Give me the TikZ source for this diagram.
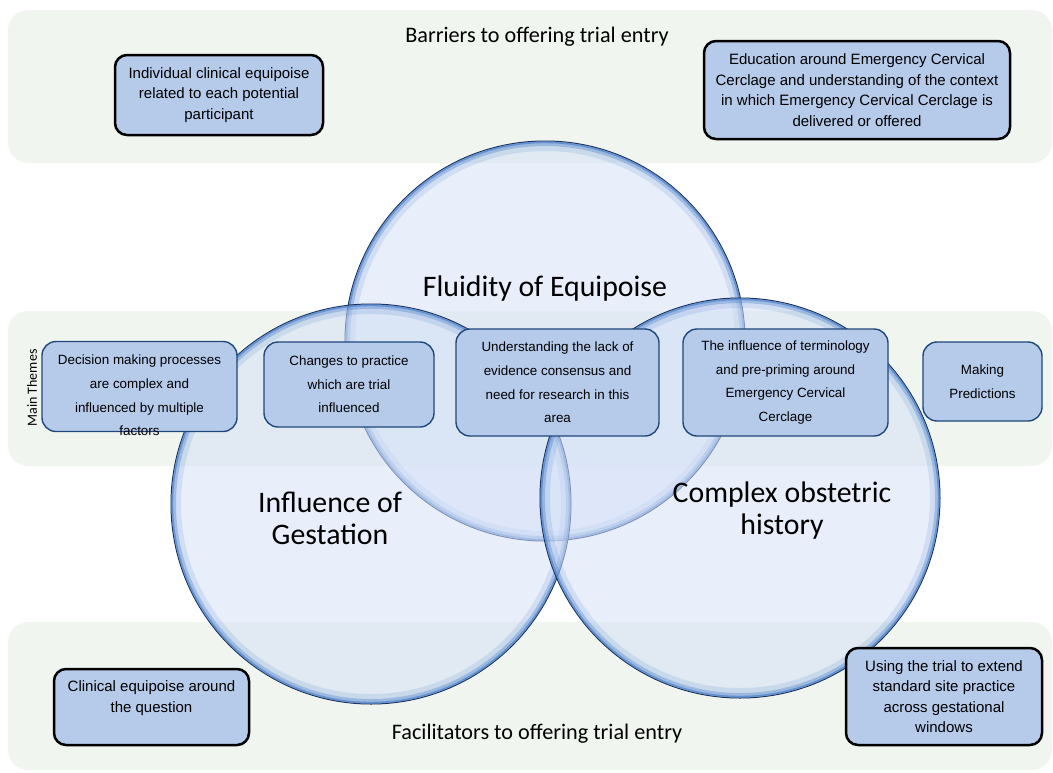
\documentclass[tikz,border=0pt]{standalone}
\usepackage{fontspec}
\setmainfont{Liberation Sans}
\newfontfamily\themefont{Carlito}

\definecolor{bandgreen}{RGB}{240,246,239}
\definecolor{boxblue}{RGB}{182,202,234}
\definecolor{edgeblue}{RGB}{32,72,122}
\definecolor{bubblefill}{RGB}{214,225,248}
\definecolor{ringblue}{RGB}{70,125,200}
\definecolor{ringdark}{RGB}{20,35,70}

\tikzset{
  band/.style={fill=bandgreen, rounded corners=20pt},
  bandtitle/.style={font=\themefont\fontsize{22.2}{26}\selectfont},
  circletitle/.style={font=\themefont\fontsize{29.8}{32}\selectfont, align=center},
  bubble/.style={circle, minimum size=400pt, inner sep=0pt, fill=bubblefill, fill opacity=0.55, draw=ringdark, line width=1pt},
  keybox/.style={draw=black, line width=2.5pt, fill=boxblue, rounded corners=12pt, align=center, inner sep=0pt, font=\fontsize{15}{20.5}\selectfont},
  themebox/.style={draw=edgeblue, line width=1.4pt, fill=boxblue, rounded corners=14pt, align=center, inner sep=0pt, font=\fontsize{13.4}{23.7}\selectfont},
  themetext/.style={align=center, inner sep=0pt, font=\fontsize{13.4}{23.7}\selectfont}
}

\begin{document}
\begin{tikzpicture}[x=1pt, y=1pt]
  \useasboundingbox (0,0) rectangle (1053,-772);

  \fill[band] (8,-10) rectangle (1052,-163);
  \fill[band] (8,-311) rectangle (1052,-466);
  \fill[band] (8,-622) rectangle (1052,-770);

  \foreach \name/\pos in {fluidity/{545,-341}, gestation/{371,-504}, history/{740,-498}} {
    \node[bubble] (\name) at (\pos) {};
    \draw[ringblue, line width=8pt, opacity=0.15] (\name.center) circle (194pt);
    \draw[ringblue, line width=4pt, opacity=0.35] (\name.center) circle (197pt);
    \draw[ringblue, line width=2pt, opacity=0.7] (\name.center) circle (198.8pt);
  }

  \node[bandtitle] (barriers) at (537,-37) {Barriers to offering trial entry};
  \node[bandtitle] (facilitators) at (537,-734) {Facilitators to offering trial entry};

  \node[circletitle] (fluiditytitle) at (545,-289) {Fluidity of Equipoise};
  \node[circletitle] (gestationtitle) at (330,-518) {Influence of\\Gestation};
  \node[circletitle] (historytitle) at (782,-511) {Complex obstetric\\history};

  \node[rotate=90, font=\themefont\fontsize{14}{14}\selectfont] (mainthemes) at (32,-388) {Main Themes};

  \node[keybox, minimum width=208pt, minimum height=80pt] (individual) at (219,-95)
    {Individual clinical equipoise\\related to each potential\\participant};
  \node[keybox, minimum width=306pt, minimum height=98pt] (education) at (857,-90)
    {Education around Emergency Cervical\\Cerclage and understanding of the context\\in which Emergency Cervical Cerclage is\\delivered or offered};
  \node[keybox, minimum width=195pt, minimum height=76pt] (clinical) at (151.5,-707)
    {Clinical equipoise around\\the question\\\mbox{}};
  \node[keybox, minimum width=196pt, minimum height=97pt] (extend) at (944,-696.5)
    {Using the trial to extend\\standard site practice\\across gestational\\windows};

  \node[themebox, minimum width=195pt, minimum height=90pt] (decision) at (139.5,-386.5) {};
  \node[themetext] (decisiontext) at (139.5,-395.5)
    {Decision making processes\\are complex and\\influenced by multiple\\factors};
  \node[themebox, minimum width=170pt, minimum height=85pt] (changes) at (349,-384.5)
    {Changes to practice\\which are trial\\influenced};
  \node[themebox, minimum width=203pt, minimum height=107pt] (evidence) at (557.5,-382.5)
    {Understanding the lack of\\evidence consensus and\\need for research in this\\area};
  \node[themebox, minimum width=205pt, minimum height=107pt] (terminology) at (785.5,-382.5)
    {The influence of terminology\\and pre-priming around\\Emergency Cervical\\Cerclage};
  \node[themebox, minimum width=119pt, minimum height=79pt] (predictions) at (982.5,-381.5)
    {Making\\Predictions};
\end{tikzpicture}
\end{document}
